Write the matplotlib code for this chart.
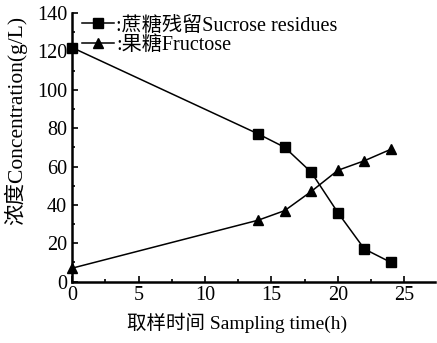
import numpy as np
import matplotlib
matplotlib.use("Agg")
import matplotlib.pyplot as plt
from matplotlib.ticker import MultipleLocator

plt.rcParams['font.family'] = ['Liberation Serif', 'Noto Sans CJK SC']

# data
hours = [0, 14, 16, 18, 20, 22, 24]
sucrose = [122, 77, 70, 57, 36, 17, 10]
fructose = [7, 32, 37, 47, 58, 63, 69]

fig = plt.figure(figsize=(4.37, 3.43), dpi=100)
ax = fig.add_axes([0.165, 0.179, 0.83, 0.783])

ax.plot(hours, sucrose, color='black', lw=1.1, marker='s', ms=6.5, clip_on=False,
        label=':蔗糖残留Sucrose residues')
ax.plot(hours, fructose, color='black', lw=1.1, marker='^', ms=6.5, clip_on=False,
        label=':果糖Fructose')

ax.set_xlim(0, 27.3)
ax.set_ylim(0, 140)
ax.xaxis.set_major_locator(MultipleLocator(5))
ax.xaxis.set_minor_locator(MultipleLocator(2.5))
ax.yaxis.set_major_locator(MultipleLocator(20))
ax.yaxis.set_minor_locator(MultipleLocator(10))

for s in ['top', 'right']:
    ax.spines[s].set_visible(False)
for s in ['left', 'bottom']:
    ax.spines[s].set_linewidth(1.8)

ax.tick_params(which='both', direction='in', width=1.2, labelsize=14.5)
ax.tick_params(which='major', length=4)
ax.tick_params(which='minor', length=2.5)

ax.set_xlabel('取样时间 Sampling time(h)', fontsize=14)
ax.set_ylabel('浓度Concentration(g/L)', fontsize=15.5)
ax.xaxis.set_label_coords(0.455, -0.117)
ax.yaxis.set_label_coords(-0.125, 0.6)

ax.legend(loc='upper left', bbox_to_anchor=(0.0, 1.025), frameon=False,
          fontsize=14.5, handlelength=1.6, handletextpad=0.1, labelspacing=0.0,
          borderpad=0.0)

fig.savefig('out.png', dpi=100)
